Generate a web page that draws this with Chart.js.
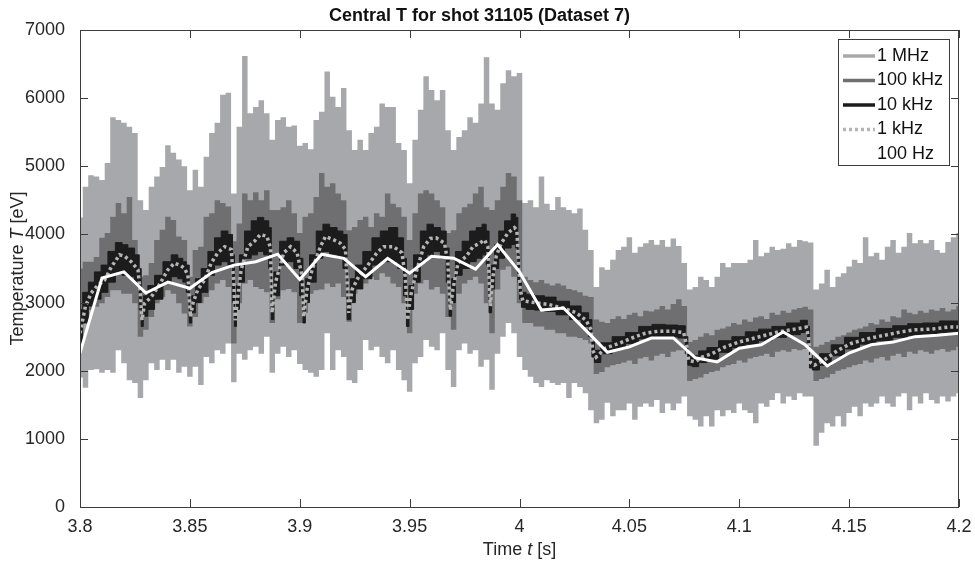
<!DOCTYPE html>
<html>
<head>
<meta charset="utf-8">
<script src="https://cdn.jsdelivr.net/npm/chart.js@4.4.0/dist/chart.umd.min.js"></script>
<style>
  html, body { margin: 0; padding: 0; background: #fff; }
  canvas { display: block; }
</style>
</head>
<body>
<canvas id="chart" width="975" height="565"></canvas>
<script>
// --- axis ticks ---
const xTicks = [3.8, 3.85, 3.9, 3.95, 4.0, 4.05, 4.1, 4.15, 4.2];
const xTickLabels = ["3.8", "3.85", "3.9", "3.95", "4", "4.05", "4.1", "4.15", "4.2"];
const yTicks = [0, 1000, 2000, 3000, 4000, 5000, 6000, 7000];
const seriesNames = ["1 MHz", "100 kHz", "10 kHz", "1 kHz", "100 Hz"];

// --- 1 MHz and 100 kHz envelopes, read every 2.5 ms starting at 3.8 s ---
const envStart = 3.8;
const envStep = 0.0025;
const mhzUpper = [
  4250, 4700, 4870, 4850, 4800, 5050, 5720, 5680, 5640, 5580,
  5490, 4500, 4360, 4700, 4850, 4990, 5310, 5200, 5100, 5000,
  4650, 4950, 4700, 5140, 5490, 5640, 6050, 6080, 4600, 5580,
  6620, 5780, 5870, 5970, 5780, 5390, 5680, 5720, 5580, 5600,
  5300, 5340, 5250, 5680, 5800, 6390, 6020, 5870, 6150, 5530,
  5240, 5390, 5240, 5490, 5580, 5920, 5870, 5870, 5340, 5240,
  4750, 5390, 5830, 6320, 6120, 5970, 6120, 5530, 5240, 5430,
  5530, 5720, 5640, 5920, 6600, 5920, 5830, 6220, 6410, 6320,
  6370, 4460, 4500, 4400, 4850, 4450, 4360, 4550, 4400, 4360,
  4310, 4380, 4070, 3770, 3230, 3520, 3480, 3630, 3770, 3820,
  3960, 3730, 3820, 3870, 3920, 3850, 3920, 3820, 3940, 3830,
  3580, 3190, 3230, 3380, 3330, 3230, 3380, 3580, 3520, 3580,
  3580, 3580, 3630, 3920, 3680, 3730, 3820, 3770, 3790, 3870,
  3820, 3920, 3900, 3880, 3190, 3280, 3480, 3230, 3380, 3430,
  3530, 3630, 3580, 3960, 3680, 3730, 3630, 3820, 3920, 3730,
  3820, 4020, 3870, 3920, 3870, 3920, 3770, 3730, 3890, 3960,
  4020
];
const mhzLower = [
  1900, 1750, 2010, 2020, 1970, 2010, 1970, 2300, 2110, 1860,
  1820, 1600, 1860, 2110, 2010, 2160, 2010, 2160, 1970, 2060,
  1910, 2060, 1790, 2200, 2110, 2300, 2250, 2400, 1830, 2250,
  2160, 2300, 2350, 2250, 2500, 1970, 2250, 2350, 2200, 2300,
  2100, 2010, 1970, 1910, 2010, 2550, 2010, 2300, 2200, 1860,
  1820, 2010, 2450, 2300, 2350, 2200, 2110, 2300, 2010, 1860,
  1690, 2110, 2200, 2450, 2350, 2300, 2550, 2010, 1760, 2300,
  2400, 2250, 2300, 2060, 2160, 1720, 2250, 2500, 2700, 2550,
  2200, 2010, 1910, 1820, 1760, 1860, 1820, 1790, 1820, 1600,
  1820, 1760, 1670, 1420, 1230, 1280, 1530, 1330, 1420, 1420,
  1520, 1280, 1470, 1520, 1470, 1570, 1380, 1520, 1420, 1520,
  1620, 1330, 1280, 1180, 1330, 1180, 1420, 1330, 1420, 1380,
  1520, 1420, 1380, 1230, 1520, 1470, 1570, 1670, 1520, 1620,
  1570, 1670, 1620, 1620, 900, 1090, 1230, 1180, 1330, 1180,
  1380, 1470, 1330, 1520, 1470, 1520, 1620, 1520, 1470, 1620,
  1670, 1420, 1620, 1520, 1670, 1570, 1520, 1620, 1550, 1620,
  1670
];
const khz100Upper = [
  3500, 3600, 3600, 3670, 3950, 4020, 4260, 4460, 4310, 4550,
  3920, 3380, 3400, 3580, 3920, 4070, 4260, 4210, 3970, 3920,
  3380, 3770, 3820, 4260, 4310, 4500, 4460, 4410, 3900, 4160,
  4600, 4500, 4620, 4500, 4650, 4360, 4360, 4400, 4500, 4310,
  4020, 4260, 4310, 4550, 4900, 4700, 4750, 4600, 4500, 4060,
  4110, 4210, 4260, 4110, 4310, 4260, 4600, 4450, 4400, 4260,
  3920, 4310, 4600, 4650, 4600, 4500, 4400, 4020, 4060, 4310,
  4400, 4450, 4600, 4700, 4400, 4360, 4500, 4700, 4900, 4850,
  4500, 3380, 3330, 3300, 3330, 3280, 3250, 3280, 3250, 3200,
  3180, 3150, 3100, 3080, 2750, 2720, 2700, 2760, 2800, 2760,
  2820, 2850, 2800, 2880, 2870, 2900, 2950, 2900, 2980, 3050,
  2950, 2420, 2450, 2500, 2550, 2520, 2600, 2620, 2650, 2700,
  2680, 2750, 2720, 2780, 2800, 2760, 2850, 2820, 2880, 2850,
  2900, 2920, 2940, 2900, 2350, 2380, 2420, 2450, 2500, 2520,
  2560, 2600, 2620, 2650, 2700, 2680, 2750, 2720, 2800, 2780,
  2900, 2850, 2830, 2880, 2850, 2900, 2880, 2920, 2870, 2900,
  2950
];
const khz100Lower = [
  2700, 2790, 2890, 2940, 2990, 3080, 3180, 3180, 3130, 3130,
  2990, 2500, 2600, 2790, 2990, 3080, 3180, 3130, 2990, 2840,
  2650, 2790, 2990, 3080, 3180, 3280, 3330, 3230, 2400, 2990,
  3280, 3330, 3230, 3200, 3150, 2700, 3050, 3180, 3200, 3150,
  2700, 2850, 3130, 3180, 3190, 3280, 3230, 3280, 3080, 2720,
  3130, 3230, 3280, 3380, 3330, 3430, 3380, 3280, 3230, 2990,
  2550, 3130, 3280, 3330, 3190, 3230, 3130, 2790, 2600, 3130,
  3280, 3330, 3380, 3280, 2990, 2550, 3190, 3480, 3530, 3380,
  2990, 2700, 2700, 2650, 2650, 2600, 2600, 2550, 2550, 2500,
  2500, 2480, 2450, 2400, 1950, 1980, 2050, 2080, 2100, 2120,
  2150, 2100, 2180, 2200, 2150, 2220, 2250, 2200, 2280, 2300,
  2300, 1850, 1880, 1900, 1950, 1980, 2000, 2050, 2080, 2100,
  2150, 2120, 2180, 2200, 2220, 2250, 2200, 2280, 2300, 2280,
  2320, 2300, 2320, 2300, 1850, 1880, 1900, 1950, 2000, 2020,
  2050, 2080, 2100, 2150, 2120, 2180, 2200, 2150, 2220, 2250,
  2200, 2280, 2250, 2300, 2280, 2250, 2300, 2320, 2280, 2300,
  2350
];

// --- 10 kHz band and 1 kHz trace, read at the corners of the trace ---
const fineTime = [
  3.8, 3.8025, 3.8051, 3.808, 3.8112, 3.8142, 3.818, 3.8203, 3.8233, 3.8264,
  3.8275, 3.8282, 3.8294, 3.8324, 3.8355, 3.84, 3.843, 3.846, 3.8476, 3.8491,
  3.8503, 3.8514, 3.8536, 3.8567, 3.8597, 3.8627, 3.8658, 3.8688, 3.87, 3.8706,
  3.8718, 3.8733, 3.8764, 3.8794, 3.8821, 3.8851, 3.8867, 3.8874, 3.889, 3.8927,
  3.8958, 3.8988, 3.9011, 3.9018, 3.9033, 3.9056, 3.9094, 3.9117, 3.9155, 3.9185,
  3.9208, 3.9223, 3.9238, 3.9268, 3.9306, 3.9351, 3.9382, 3.9427, 3.9465, 3.948,
  3.9491, 3.9503, 3.9533, 3.9564, 3.9594, 3.9621, 3.9659, 3.9674, 3.9685, 3.9697,
  3.972, 3.9758, 3.9788, 3.9818, 3.9841, 3.9856, 3.9867, 3.9879, 3.9894, 3.9917,
  3.9947, 3.9977, 3.9988, 3.9997, 4.0003, 4.0015, 4.0045, 4.0091, 4.0136, 4.0197,
  4.0258, 4.0303, 4.0326, 4.0333, 4.0349, 4.0391, 4.0452, 4.0512, 4.0573, 4.0633,
  4.0694, 4.0747, 4.0762, 4.077, 4.08, 4.083, 4.0876, 4.0936, 4.0997, 4.1058,
  4.1118, 4.1179, 4.1251, 4.1305, 4.1315, 4.1324, 4.1342, 4.1388, 4.1449, 4.1509,
  4.1585, 4.1661, 4.1736, 4.1797, 4.1873, 4.1949, 4.2
];
const khz1 = [
  2550, 2950, 3140, 3250, 3330, 3520, 3700, 3680, 3600, 3480,
  3100, 2740, 2990, 3080, 3230, 3480, 3580, 3540, 3500, 3400,
  2790, 2990, 3190, 3330, 3580, 3730, 3820, 3780, 3300, 2740,
  3080, 3480, 3820, 3900, 4000, 3970, 3800, 2850, 3300, 3730,
  3820, 3730, 3380, 2790, 3190, 3480, 3820, 3970, 3920, 3870,
  3780, 2850, 3190, 3380, 3530, 3730, 3820, 3820, 3730, 3380,
  2740, 3080, 3480, 3820, 3940, 3950, 3870, 3580, 2890, 3190,
  3580, 3680, 3820, 3870, 3920, 3820, 2950, 3380, 3680, 3870,
  4020, 4100, 4060, 3480, 3190, 3030, 3010, 2990, 2970, 2920,
  2850, 2740, 2600, 2300, 2200, 2330, 2400, 2480, 2550, 2580,
  2580, 2560, 2350, 2150, 2130, 2200, 2250, 2350, 2420, 2470,
  2520, 2570, 2610, 2640, 2500, 2120, 2080, 2160, 2300, 2400,
  2470, 2520, 2570, 2600, 2610, 2640, 2640
];
const khz10Upper = [
  2900, 3150, 3300, 3450, 3550, 3750, 3880, 3850, 3800, 3700,
  3500, 2950, 3100, 3250, 3400, 3600, 3700, 3650, 3600, 3550,
  2950, 3100, 3350, 3500, 3750, 3950, 4050, 4000, 3700, 2900,
  3250, 3700, 4050, 4200, 4250, 4200, 4100, 3050, 3450, 3900,
  3950, 3900, 3650, 2950, 3350, 3700, 4050, 4150, 4100, 4050,
  4000, 3000, 3350, 3550, 3750, 3950, 4050, 4100, 3950, 3650,
  2900, 3250, 3700, 4050, 4150, 4100, 4050, 3800, 3050, 3350,
  3750, 3900, 4050, 4100, 4150, 4050, 3100, 3550, 3850, 4050,
  4200, 4300, 4250, 3700, 3300, 3150, 3120, 3100, 3080, 3020,
  2950, 2850, 2750, 2450, 2300, 2410, 2500, 2560, 2650, 2680,
  2670, 2660, 2500, 2250, 2220, 2290, 2340, 2440, 2500, 2570,
  2610, 2650, 2700, 2740, 2650, 2220, 2170, 2250, 2380, 2490,
  2560, 2620, 2660, 2690, 2700, 2730, 2730
];
const khz10Lower = [
  2400, 2700, 2950, 3050, 3150, 3300, 3450, 3400, 3380, 3300,
  2900, 2650, 2800, 2900, 3050, 3300, 3380, 3350, 3300, 3150,
  2700, 2850, 3000, 3150, 3400, 3550, 3600, 3550, 3000, 2650,
  2900, 3300, 3650, 3700, 3750, 3700, 3500, 2750, 3100, 3550,
  3600, 3500, 3100, 2700, 3000, 3300, 3650, 3750, 3700, 3650,
  3500, 2750, 3000, 3200, 3350, 3550, 3600, 3600, 3500, 3100,
  2650, 2900, 3300, 3600, 3700, 3750, 3650, 3300, 2800, 3000,
  3400, 3500, 3600, 3650, 3700, 3550, 2850, 3200, 3500, 3650,
  3800, 3850, 3800, 3300, 3050, 2930, 2900, 2890, 2870, 2820,
  2750, 2650, 2500, 2200, 2120, 2250, 2320, 2400, 2470, 2500,
  2500, 2480, 2250, 2080, 2060, 2120, 2170, 2270, 2340, 2390,
  2440, 2490, 2530, 2560, 2400, 2040, 2010, 2080, 2220, 2320,
  2390, 2440, 2490, 2520, 2530, 2560, 2560
];

// --- 100 Hz trace, every 10 ms ---
const hz100Time = [
  3.80, 3.81, 3.82, 3.83, 3.84, 3.85, 3.86, 3.87, 3.88, 3.89,
  3.90, 3.91, 3.92, 3.93, 3.94, 3.95, 3.96, 3.97, 3.98, 3.99,
  4.00, 4.01, 4.02, 4.03, 4.04, 4.05, 4.06, 4.07, 4.08, 4.09,
  4.10, 4.11, 4.12, 4.13, 4.14, 4.15, 4.16, 4.17, 4.18, 4.19,
  4.20
];
const hz100 = [
  2260, 3360, 3450, 3140, 3300, 3210, 3440, 3550, 3600, 3710,
  3340, 3710, 3650, 3380, 3650, 3430, 3680, 3650, 3490, 3850,
  3450, 2890, 2920, 2600, 2270, 2350, 2480, 2480, 2190, 2130,
  2330, 2380, 2570, 2380, 2070, 2260, 2380, 2420, 2500, 2520,
  2550
];

const FONT = '"Liberation Sans", Arial, Helvetica, sans-serif';
const AXIS = "#3c3c3c";
const TEXT = "#262626";
const colors = ["#a7a8ab", "#6f6f71", "#1c1c1c", "#b5b5b5", "#ffffff"];

const envTime = mhzUpper.map((_, i) => +(envStart + i * envStep).toFixed(4));
const pts = (xs, ys) => xs.map((t, i) => ({ x: t, y: ys[i] }));

function band(label, xs, up, low, color, order, opts) {
  const base = { pointRadius: 0, order, tension: 0, ...opts };
  return [
    { ...base, label, data: pts(xs, up), borderColor: color, fill: false },
    { ...base, label: label + " low", data: pts(xs, low), borderColor: color, backgroundColor: color, fill: "-1" },
  ];
}

function mixedText(ctx, parts, cx, cy, size) {
  const fonts = parts.map((p) => `${p[1] ? "italic " : ""}${size}px ${FONT}`);
  let total = 0;
  const widths = parts.map((p, i) => {
    ctx.font = fonts[i];
    const w = ctx.measureText(p[0]).width;
    total += w;
    return w;
  });
  let x = cx - total / 2;
  ctx.textAlign = "left";
  ctx.textBaseline = "middle";
  parts.forEach((p, i) => {
    ctx.font = fonts[i];
    ctx.fillText(p[0], x, cy);
    x += widths[i];
  });
}

// box, inward ticks, legend and axis titles in the MATLAB look
const frame = {
  id: "frame",
  afterDatasetsDraw(chart) {
    const { ctx, chartArea: a, scales: { x, y } } = chart;
    ctx.save();
    ctx.strokeStyle = AXIS;
    ctx.lineWidth = 1;
    ctx.strokeRect(a.left + 0.5, a.top + 0.5, a.right - a.left - 1, a.bottom - a.top);
    ctx.beginPath();
    xTicks.forEach((v) => {
      const px = Math.round(x.getPixelForValue(v)) + 0.5;
      ctx.moveTo(px, a.bottom); ctx.lineTo(px, a.bottom - 8);
      ctx.moveTo(px, a.top); ctx.lineTo(px, a.top + 8);
    });
    yTicks.forEach((v) => {
      const py = Math.round(y.getPixelForValue(v)) + 0.5;
      ctx.moveTo(a.left, py); ctx.lineTo(a.left + 8, py);
      ctx.moveTo(a.right, py); ctx.lineTo(a.right - 8, py);
    });
    ctx.stroke();

    // legend
    const lx = a.right - 121, ly = a.top + 9, lw = 111, lh = 126;
    ctx.fillStyle = "#fff";
    ctx.fillRect(lx, ly, lw, lh);
    ctx.strokeStyle = AXIS;
    ctx.strokeRect(lx + 0.5, ly + 0.5, lw, lh);
    ctx.font = `18px ${FONT}`;
    ctx.textAlign = "left";
    ctx.textBaseline = "middle";
    seriesNames.forEach((name, k) => {
      const yy = ly + 17 + k * 24.5;
      ctx.beginPath();
      ctx.strokeStyle = colors[k];
      ctx.lineWidth = 3.5;
      ctx.setLineDash(k === 3 ? [3, 3] : []);
      ctx.moveTo(lx + 5, yy);
      ctx.lineTo(lx + 37, yy);
      ctx.stroke();
      ctx.setLineDash([]);
      ctx.fillStyle = "#111";
      ctx.fillText(name, lx + 39, yy);
    });

    // axis titles
    ctx.fillStyle = TEXT;
    mixedText(ctx, [["Time ", false], ["t", true], [" [s]", false]], (a.left + a.right) / 2, 550, 18);
    ctx.translate(18, (a.top + a.bottom) / 2);
    ctx.rotate(-Math.PI / 2);
    mixedText(ctx, [["Temperature ", false], ["T", true], [" [eV]", false]], 0, 0, 18);
    ctx.restore();
  },
};

new Chart(document.getElementById("chart"), {
  type: "line",
  data: {
    datasets: [
      ...band(seriesNames[0], envTime, mhzUpper, mhzLower, colors[0], 10, { borderWidth: 0, stepped: "middle" }),
      ...band(seriesNames[1], envTime, khz100Upper, khz100Lower, colors[1], 8, { borderWidth: 0, stepped: "middle" }),
      ...band(seriesNames[2], fineTime, khz10Upper, khz10Lower, colors[2], 6, { borderWidth: 1, stepped: "middle" }),
      {
        label: seriesNames[3], data: pts(fineTime, khz1), order: 4,
        borderColor: colors[3], borderWidth: 3.5, borderDash: [3, 3], pointRadius: 0, tension: 0, fill: false,
      },
      {
        label: seriesNames[4], data: pts(hz100Time, hz100), order: 2,
        borderColor: colors[4], borderWidth: 3, pointRadius: 0, tension: 0, fill: false,
      },
    ],
  },
  options: {
    responsive: false,
    animation: false,
    events: [],
    layout: { padding: { left: 0, right: 16, top: 0, bottom: 0 } },
    plugins: {
      legend: { display: false },
      tooltip: { enabled: false },
      title: {
        display: true,
        text: "Central T for shot 31105 (Dataset 7)",
        color: "#111",
        font: { family: FONT, size: 18, weight: "bold" },
        padding: { top: 5, bottom: 3.4 },
      },
    },
    scales: {
      x: {
        type: "linear", min: 3.8, max: 4.2,
        afterBuildTicks: (s) => { s.ticks = xTicks.map((v) => ({ value: v })); },
        afterFit: (s) => { s.height = 58; },
        grid: { display: false }, border: { display: false },
        ticks: {
          callback: (v, i) => xTickLabels[i],
          color: TEXT, font: { family: FONT, size: 18 }, padding: 1, maxRotation: 0, autoSkip: false,
        },
      },
      y: {
        type: "linear", min: 0, max: 7000,
        afterBuildTicks: (s) => { s.ticks = yTicks.map((v) => ({ value: v })); },
        afterFit: (s) => { s.width = 80; },
        grid: { display: false }, border: { display: false },
        ticks: { callback: (v) => String(v), color: TEXT, font: { family: FONT, size: 18 }, padding: 7 },
      },
    },
  },
  plugins: [frame],
});
</script>
</body>
</html>
